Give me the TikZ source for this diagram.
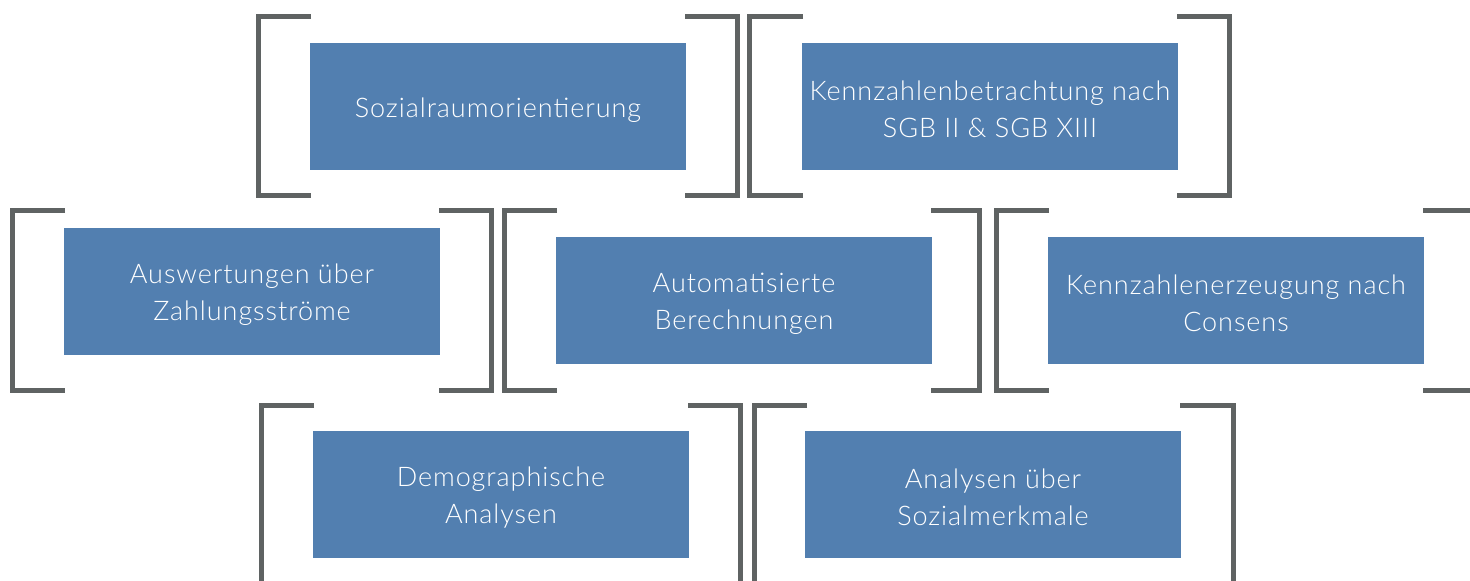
\documentclass[tikz,border=0pt]{standalone}
\usepackage{fontspec}
\setmainfont{Lato Light}[LetterSpace=3.5]
\definecolor{boxblue}{RGB}{82,127,176}
\definecolor{brgray}{RGB}{95,99,99}
\tikzset{
  box/.style={fill=boxblue, draw=none, minimum width=376pt, minimum height=127pt, inner sep=0pt},
  txt/.style={text=white, align=center, inner sep=0pt, font=\fontsize{27}{37}\selectfont},
  brk/.style={draw=brgray, line width=5pt, line join=miter, line cap=butt}
}
% \brk{left x}{right x}{top y}{bottom y}{left arm end}{right arm end}
\newcommand\brk[6]{%
  \draw[brk] (#5,#3) -- (#1,#3) -- (#1,#4) -- (#5,#4);
  \draw[brk] (#6,#3) -- (#2,#3) -- (#2,#4) -- (#6,#4);
}
\begin{document}
\begin{tikzpicture}[x=1pt,y=-1pt]
\useasboundingbox (0,0) rectangle (1470,581);
\clip (0,0) rectangle (1470,581);
\brk{258.5}{737.5}{16.5}{195.5}{311}{685}
\brk{749.5}{1229.5}{16.5}{195.5}{803}{1177}
\brk{12}{491.5}{210.5}{390}{65}{439}
\brk{504.5}{979.5}{210.5}{390}{557}{931}
\brk{996}{1476}{210.5}{390}{1049}{1423}
\brk{261.5}{740.5}{405.5}{585}{314}{688}
\brk{754}{1233}{405.5}{585}{807}{1180}
\node[box] (n1) at (498,106.5) {};
\node[box] (n2) at (990,106.5) {};
\node[box] (n3) at (252,291.5) {};
\node[box] (n4) at (744,300.5) {};
\node[box] (n5) at (1236,300.5) {};
\node[box] (n6) at (501,494.5) {};
\node[box] (n7) at (993,494.5) {};
\node[txt] (t1) at ([yshift=-4pt]n1.center) {Sozialraumorientierung};
\node[txt] (t2) at ([yshift=-3pt]n2.center) {Kennzahlenbetrachtung nach\\SGB II \& SGB XIII};
\node[txt] (t3) at ([yshift=-3pt]n3.center) {Auswertungen über\\Zahlungsströme};
\node[txt] (t4) at ([yshift=-3pt]n4.center) {Automatisierte\\Berechnungen};
\node[txt] (t5) at ([yshift=-3pt]n5.center) {Kennzahlenerzeugung nach\\Consens};
\node[txt] (t6) at ([yshift=-3pt]n6.center) {Demographische\\Analysen};
\node[txt] (t7) at ([yshift=-3pt]n7.center) {Analysen über\\Sozialmerkmale};
\end{tikzpicture}
\end{document}
